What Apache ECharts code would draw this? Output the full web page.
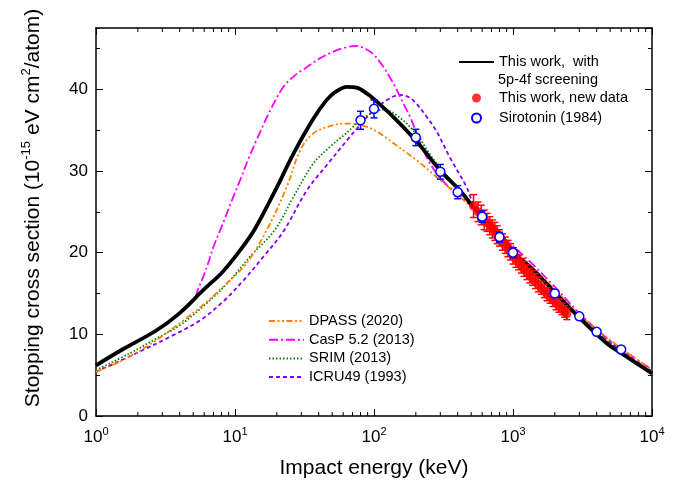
<!DOCTYPE html>
<html>
<head>
<meta charset="utf-8">
<script src="https://cdn.jsdelivr.net/npm/echarts@6.0.0/dist/echarts.min.js"></script>
<style>
  html, body { margin: 0; padding: 0; background: #fff; }
  #chart { width: 690px; height: 485px; }
</style>
</head>
<body>
<div id="chart"></div>
<script>
// ---- data ----
var thisWorkE = [1, 1.57, 2.73, 4, 5.9, 8.2, 10.9, 13.9, 20, 26.3, 36.6, 45.7, 52, 64, 75, 88.6, 100, 138, 203, 298, 416, 518, 806, 1000, 1400, 2000, 3034, 4722, 6000, 10000];
var thisWorkS = [6.2, 8.2, 10.5, 12.6, 15.4, 17.7, 20.3, 22.9, 28.0, 32.1, 36.4, 38.7, 39.6, 40.3, 40.2, 39.5, 38.8, 36.6, 33.6, 30.1, 27.6, 25.6, 22.1, 20.0, 17.9, 15.1, 11.95, 8.9, 7.7, 5.2];

var dpassE = [1, 1.57, 2.73, 4.25, 5.9, 8.2, 12.1, 16.9, 23.5, 29.4, 36.6, 50.9, 63.6, 88.7, 110, 138, 203, 298, 416, 600, 1000, 2000, 3000, 5000, 10000];
var dpassS = [5.4, 6.85, 9.3, 11.7, 13.6, 15.8, 18.7, 22.75, 28.0, 32.5, 34.6, 35.6, 35.8, 35.4, 34.6, 33.4, 31.3, 28.9, 26.8, 24.4, 20.5, 15.5, 12.4, 9.3, 5.6];

var caspE = [5.2, 5.5, 5.9, 6.5, 7, 8.2, 9.5, 10.9, 12.5, 14.3, 17.9, 22.3, 27, 32.8, 40, 51, 62, 75, 88, 100, 115, 138, 160, 182, 210, 239, 282, 333, 400, 500, 700, 1000, 1400, 2000, 3000, 5000, 10000];
var caspS = [14.6, 15.8, 17.0, 19.0, 20.7, 23.6, 26.4, 28.9, 31.5, 33.8, 37.4, 40.3, 41.7, 42.7, 43.7, 44.6, 45.1, 45.3, 44.9, 44.2, 42.9, 40.7, 38.5, 36.6, 33.9, 31.7, 29.7, 28.3, 27.2, 25.7, 23.2, 20.8, 18.5, 15.8, 12.6, 9.2, 5.7];

var srimE = [1, 1.76, 2.73, 4, 6.25, 9.2, 12.8, 19.4, 26.3, 36.6, 50, 64, 75, 94, 117, 146, 203, 240, 282, 350, 450, 600, 1000, 2000, 5000, 10000];
var srimS = [5.6, 7.7, 9.5, 11.1, 13.8, 16.6, 19.5, 22.8, 26.8, 30.9, 33.2, 34.7, 35.8, 37.0, 37.5, 36.8, 34.5, 32.6, 30.9, 29.0, 27.0, 24.6, 20.2, 15.2, 8.9, 5.4];

var icruE = [1, 2.07, 3.6, 5.6, 8.2, 11.5, 16, 22.3, 32.8, 45.7, 63.6, 79, 99, 130, 154, 180, 203, 240, 283, 350, 464, 518, 600, 1000, 2000, 5000, 10000];
var icruS = [5.4, 7.9, 9.9, 11.7, 14.0, 16.6, 19.5, 22.6, 27.6, 30.7, 33.7, 35.6, 37.4, 38.9, 39.3, 39.0, 38.2, 36.6, 34.8, 31.7, 28.0, 26.0, 24.8, 20.5, 15.3, 9.0, 5.5];

var newDataE = [520, 560, 590, 620, 650, 680, 710, 740, 770, 800, 840, 880, 920, 960, 1000, 1050, 1100, 1150, 1200, 1260, 1320, 1380, 1450, 1520, 1600, 1680, 1760, 1850, 1940, 2040, 2140, 2250, 2350, 2440];
var newDataS = [25.7, 25.0, 24.6, 24.0, 23.7, 23.3, 22.9, 22.6, 22.2, 21.8, 21.3, 20.9, 20.5, 20.1, 19.6, 19.2, 18.8, 18.4, 18.0, 17.6, 17.2, 16.9, 16.5, 16.1, 15.7, 15.3, 14.9, 14.6, 14.2, 13.8, 13.5, 13.1, 12.8, 12.5];
var newDataErr = [1.4, 1.2, 1.2, 1.2, 1.1, 1.1, 1.1, 1.1, 1.1, 1.0, 1.0, 1.0, 1.0, 1.0, 1.0, 1.0, 0.9, 0.9, 0.9, 0.9, 0.9, 0.9, 0.9, 0.9, 0.8, 0.8, 0.8, 0.8, 0.8, 0.8, 0.8, 0.7, 0.7, 0.7];

var siroE = [80, 100, 200, 300, 400, 600, 800, 1000, 2000, 3000, 4000, 6000];
var siroS = [36.2, 37.6, 34.1, 29.9, 27.4, 24.4, 21.9, 20.0, 15.0, 12.2, 10.3, 8.15];
var siroErr = [1.1, 1.1, 1.0, 0.9, 0.8, 0.7, 0.6, 0.6, 0.45, 0.35, 0.3, 0.25];

var xMinorTicks = [2, 3, 4, 5, 6, 7, 8, 9, 20, 30, 40, 50, 60, 70, 80, 90, 200, 300, 400, 500, 600, 700, 800, 900, 2000, 3000, 4000, 5000, 6000, 7000, 8000, 9000];

var FONT = 'Liberation Sans, Arial, sans-serif';

function zip(a, b, c) {
	return a.map(function (x, i) { return c ? [x, b[i], c[i]] : [x, b[i]]; });
}

function errorBar(params, api) {
	var x = api.value(0), y = api.value(1), e = api.value(2);
	var lo = api.coord([x, y - e]);
	var hi = api.coord([x, y + e]);
	var w = 3.5;
	var st = { stroke: api.visual('color'), lineWidth: 1.5 };
	return {
		type: 'group',
		children: [
			{ type: 'line', shape: { x1: lo[0], y1: lo[1], x2: hi[0], y2: hi[1] }, style: st },
			{ type: 'line', shape: { x1: lo[0] - w, y1: lo[1], x2: lo[0] + w, y2: lo[1] }, style: st },
			{ type: 'line', shape: { x1: hi[0] - w, y1: hi[1], x2: hi[0] + w, y2: hi[1] }, style: st }
		]
	};
}

// minor ticks of the log axis, on bottom and top edge
function minorTick(params, api) {
	var p = api.coord([api.value(0), 0]);
	var cs = params.coordSys;
	var top = cs.y, bottom = cs.y + cs.height;
	var st = { stroke: '#000', lineWidth: 1 };
	return {
		type: 'group',
		children: [
			{ type: 'line', shape: { x1: p[0], y1: bottom, x2: p[0], y2: bottom - 4 }, style: st },
			{ type: 'line', shape: { x1: p[0], y1: top, x2: p[0], y2: top + 4 }, style: st }
		]
	};
}

var chart = echarts.init(document.getElementById('chart'));

var axisLine = { show: true, lineStyle: { color: '#000', width: 1.5 } };
var legendText = { fontFamily: FONT, fontSize: 14.5, color: '#000', lineHeight: 18 };

var option = {
	animation: false,
	textStyle: { fontFamily: FONT },
	grid: { left: 96, right: 38, top: 28, bottom: 69, containLabel: false },
	legend: [
		{
			left: 458, top: 53, padding: 0, orient: 'vertical',
			itemWidth: 35, itemHeight: 9, itemGap: 2, selectedMode: false,
			itemStyle: { opacity: 0 },
			textStyle: legendText,
			data: ['This work,  with']
		},
		{
			left: 471, top: 89, padding: 0, orient: 'vertical',
			itemWidth: 35, itemHeight: 9, itemGap: 2, selectedMode: false,
			textStyle: legendText,
			data: ['This work, new data', 'Sirotonin (1984)']
		},
		{
			left: 268, top: 312, padding: 0, orient: 'vertical',
			itemWidth: 35, itemHeight: 9, itemGap: 0.7, selectedMode: false,
			itemStyle: { opacity: 0 },
			textStyle: legendText,
			data: ['DPASS (2020)', 'CasP 5.2 (2013)', 'SRIM (2013)', 'ICRU49 (1993)']
		}
	],
	graphic: [
		{
			type: 'text', left: 498, top: 72,
			style: { text: '5p-4f screening', font: '14.5px ' + FONT, fill: '#000' }
		}
	],
	xAxis: [
		{
			type: 'log', logBase: 10, min: 1, max: 10000, position: 'bottom',
			axisLine: { show: true, onZero: false, lineStyle: { color: '#000', width: 1.5 } },
			axisTick: { show: true, inside: true, length: 7, lineStyle: { color: '#000', width: 1 } },
			splitLine: { show: false },
			axisLabel: {
				margin: 10,
				formatter: function (v) { return '{b|10}{s|' + Math.round(Math.log10(v)) + '}'; },
				rich: {
					b: { fontSize: 17, fontFamily: FONT, color: '#000', lineHeight: 22 },
					s: { fontSize: 11, fontFamily: FONT, color: '#000', verticalAlign: 'top', lineHeight: 11 }
				}
			},
			name: 'Impact energy (keV)', nameLocation: 'middle', nameGap: 42,
			nameTextStyle: { fontSize: 21, fontFamily: FONT, color: '#000' }
		},
		{
			type: 'log', logBase: 10, min: 1, max: 10000, position: 'top',
			axisLine: { show: true, onZero: false, lineStyle: { color: '#000', width: 1.5 } },
			axisTick: { show: true, inside: true, length: 7, lineStyle: { color: '#000', width: 1 } },
			splitLine: { show: false },
			axisLabel: { show: false }
		}
	],
	yAxis: [
		{
			type: 'value', min: 0, max: 47.5, interval: 10, position: 'left',
			axisLine: axisLine,
			axisTick: { show: true, inside: true, length: 7, lineStyle: { color: '#000', width: 1 } },
			splitLine: { show: false },
			axisLabel: {
				margin: 8, fontSize: 17, fontFamily: FONT, color: '#000',
				showMaxLabel: false,
				formatter: function (v) { return v % 10 === 0 ? String(v) : ''; }
			},
			name: 'Stopping cross section (10{s|-15} eV cm{s|2}/atom)',
			nameLocation: 'middle', nameRotate: 90, nameGap: 50,
			nameTextStyle: {
				fontSize: 21, fontFamily: FONT, color: '#000', lineHeight: 26,
				padding: [0, 0, 0, 28],
				rich: {
					s: { fontSize: 13, fontFamily: FONT, color: '#000', verticalAlign: 'top', lineHeight: 13 }
				}
			}
		},
		{
			type: 'value', min: 0, max: 47.5, interval: 5, position: 'left',
			axisLine: { show: false },
			axisTick: { show: true, inside: true, length: 4, lineStyle: { color: '#000', width: 1 } },
			splitLine: { show: false },
			axisLabel: { show: false }
		},
		{
			type: 'value', min: 0, max: 47.5, interval: 10, position: 'right',
			axisLine: axisLine,
			axisTick: { show: true, inside: true, length: 7, lineStyle: { color: '#000', width: 1 } },
			splitLine: { show: false },
			axisLabel: { show: false }
		},
		{
			type: 'value', min: 0, max: 47.5, interval: 5, position: 'right',
			axisLine: { show: false },
			axisTick: { show: true, inside: true, length: 4, lineStyle: { color: '#000', width: 1 } },
			splitLine: { show: false },
			axisLabel: { show: false }
		}
	],
	series: [
		{
			name: 'minor', type: 'custom', silent: true, renderItem: minorTick,
			encode: { x: 0, y: 1 },
			data: xMinorTicks.map(function (v) { return [v, 0]; }), z: 1
		},
		{
			name: 'ICRU49 (1993)', type: 'line', symbol: 'none', smooth: 0.35,
			itemStyle: { color: '#8000ff' },
			lineStyle: { color: '#8000ff', width: 1.8, type: [4, 3] },
			data: zip(icruE, icruS), z: 2
		},
		{
			name: 'SRIM (2013)', type: 'line', symbol: 'none', smooth: 0.35,
			itemStyle: { color: '#008000' },
			lineStyle: { color: '#008000', width: 1.8, type: [1.5, 2] },
			data: zip(srimE, srimS), z: 2
		},
		{
			name: 'CasP 5.2 (2013)', type: 'line', symbol: 'none', smooth: 0.35,
			itemStyle: { color: '#ff00ff' },
			lineStyle: { color: '#ff00ff', width: 1.8, type: [9, 3, 2, 3] },
			data: zip(caspE, caspS), z: 2
		},
		{
			name: 'DPASS (2020)', type: 'line', symbol: 'none', smooth: 0.35,
			itemStyle: { color: '#ff8000' },
			lineStyle: { color: '#ff8000', width: 1.8, type: [6, 2.5, 2, 2.5, 2, 2.5] },
			data: zip(dpassE, dpassS), z: 2
		},
		{
			name: 'This work,  with', type: 'line', symbol: 'none', smooth: 0.35,
			itemStyle: { color: '#000' },
			lineStyle: { color: '#000', width: 3.8 },
			data: zip(thisWorkE, thisWorkS), z: 3
		},
		{
			name: 'newErr', type: 'custom', renderItem: errorBar, silent: true,
			itemStyle: { color: '#ff0000' },
			encode: { x: 0, y: 1 },
			data: zip(newDataE, newDataS, newDataErr), z: 4
		},
		{
			name: 'This work, new data', type: 'scatter', symbol: 'circle', symbolSize: 9,
			itemStyle: { color: '#ff0000' },
			data: zip(newDataE, newDataS), z: 5
		},
		{
			name: 'siroErr', type: 'custom', renderItem: errorBar, silent: true,
			itemStyle: { color: '#0000ff' },
			encode: { x: 0, y: 1 },
			data: zip(siroE, siroS, siroErr), z: 6
		},
		{
			name: 'Sirotonin (1984)', type: 'scatter', symbol: 'circle', symbolSize: 9,
			itemStyle: { color: '#ffffff', borderColor: '#0000ff', borderWidth: 1.5, opacity: 1 },
			data: zip(siroE, siroS), z: 7
		}
	]
};

chart.setOption(option, true);
</script>
</body>
</html>
